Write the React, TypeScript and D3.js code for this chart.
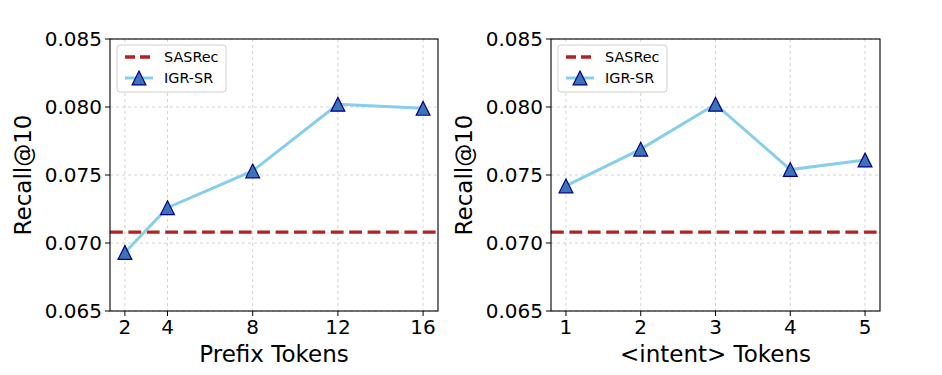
import React from "react";
import * as d3 from "d3";

const prefixTokens = [2, 4, 8, 12, 16];
const prefixRecall = [0.0693, 0.0726, 0.0753, 0.0802, 0.0799];
const intentTokens = [1, 2, 3, 4, 5];
const intentRecall = [0.0742, 0.0769, 0.0802, 0.0754, 0.0761];
const sasrecRecall = 0.0708;
const yTicks = [0.065, 0.07, 0.075, 0.08, 0.085];
const seriesNames = ["SASRec", "IGR-SR"];

const FONT = "'DejaVu Sans', sans-serif";
const top = 39;
const bottom = 311;

function Panel({ left, right, xs, ys, xLabel }: { left: number; right: number; xs: number[]; ys: number[]; xLabel: string }) {
  const span = xs[xs.length - 1] - xs[0];
  const x = d3.scaleLinear().domain([xs[0] - span * 0.05, xs[xs.length - 1] + span * 0.05]).range([left, right]);
  const y = d3.scaleLinear().domain([0.065, 0.085]).range([bottom, top]);
  const line = d3.line<number>().x((_, i) => x(xs[i])).y((d) => y(d));
  const triPath = (cx: number, cy: number) => {
    const h = 6.9;
    return `M${cx},${cy - h}L${cx + h},${cy + h}L${cx - h},${cy + h}Z`;
  };
  return (
    <g>
      {xs.map((t) => (
        <line key={"gx" + t} x1={x(t)} x2={x(t)} y1={top} y2={bottom} stroke="#b0b0b0" strokeOpacity={0.7} strokeWidth={0.8} strokeDasharray="3,3" />
      ))}
      {yTicks.map((t) => (
        <line key={"gy" + t} x1={left} x2={right} y1={y(t)} y2={y(t)} stroke="#b0b0b0" strokeOpacity={0.7} strokeWidth={0.8} strokeDasharray="3,3" />
      ))}
      <line x1={left} x2={right} y1={y(sasrecRecall)} y2={y(sasrecRecall)} stroke="#b22222" strokeWidth={3.4} strokeDasharray="12.8,5.6" />
      <path d={line(ys) || ""} fill="none" stroke="#87ceeb" strokeWidth={3} />
      {ys.map((v, i) => (
        <path key={"m" + i} d={triPath(x(xs[i]), y(v))} fill="#3d74b6" stroke="#00008b" strokeWidth={1.2} strokeLinejoin="miter" />
      ))}
      <rect x={left} y={top} width={right - left} height={bottom - top} fill="none" stroke="#000" strokeWidth={1.1} />
      {yTicks.map((t) => (
        <g key={"yt" + t}>
          <line x1={left - 5} x2={left} y1={y(t)} y2={y(t)} stroke="#000" strokeWidth={1} />
          <text x={left - 8} y={y(t)} dy="0.36em" textAnchor="end" fontSize={20} style={{ fontFamily: FONT }} fill="#000">
            {d3.format(".3f")(t)}
          </text>
        </g>
      ))}
      {xs.map((t) => (
        <g key={"xt" + t}>
          <line x1={x(t)} x2={x(t)} y1={bottom} y2={bottom + 5} stroke="#000" strokeWidth={1} />
          <text x={x(t)} y={bottom + 23} textAnchor="middle" fontSize={20} style={{ fontFamily: FONT }} fill="#000">
            {t}
          </text>
        </g>
      ))}
      <text x={(left + right) / 2} y={bottom + 51} textAnchor="middle" fontSize={23} style={{ fontFamily: FONT }} fill="#000">
        {xLabel}
      </text>
      <text transform={`translate(${left - 79},${(top + bottom) / 2}) rotate(-90)`} textAnchor="middle" fontSize={23} style={{ fontFamily: FONT }} fill="#000">
        Recall@10
      </text>
      <g transform={`translate(${left + 7},${top + 6})`}>
        <rect x={0} y={0} width={109} height={47} rx={3} fill="#fff" fillOpacity={0.85} stroke="#d0d0d0" strokeWidth={1} />
        <line x1={8} x2={36} y1={12} y2={12} stroke="#b22222" strokeWidth={3.4} strokeDasharray="10,5" />
        <text x={47} y={12} dy="0.36em" fontSize={14.4} style={{ fontFamily: FONT }} fill="#000">{seriesNames[0]}</text>
        <line x1={8} x2={36} y1={33} y2={33} stroke="#87ceeb" strokeWidth={3} />
        <path d={triPath(22, 33)} fill="#3d74b6" stroke="#00008b" strokeWidth={1.2} />
        <text x={47} y={33} dy="0.36em" fontSize={14.4} style={{ fontFamily: FONT }} fill="#000">{seriesNames[1]}</text>
      </g>
    </g>
  );
}

export default function App() {
  return (
    <svg width={942} height={375} style={{ display: "block", position: "absolute", left: 0, top: 0 }}>
      <rect width={942} height={375} fill="#fff" />
      <Panel left={110} right={438} xs={prefixTokens} ys={prefixRecall} xLabel="Prefix Tokens" />
      <Panel left={551} right={880} xs={intentTokens} ys={intentRecall} xLabel="<intent> Tokens" />
    </svg>
  );
}
